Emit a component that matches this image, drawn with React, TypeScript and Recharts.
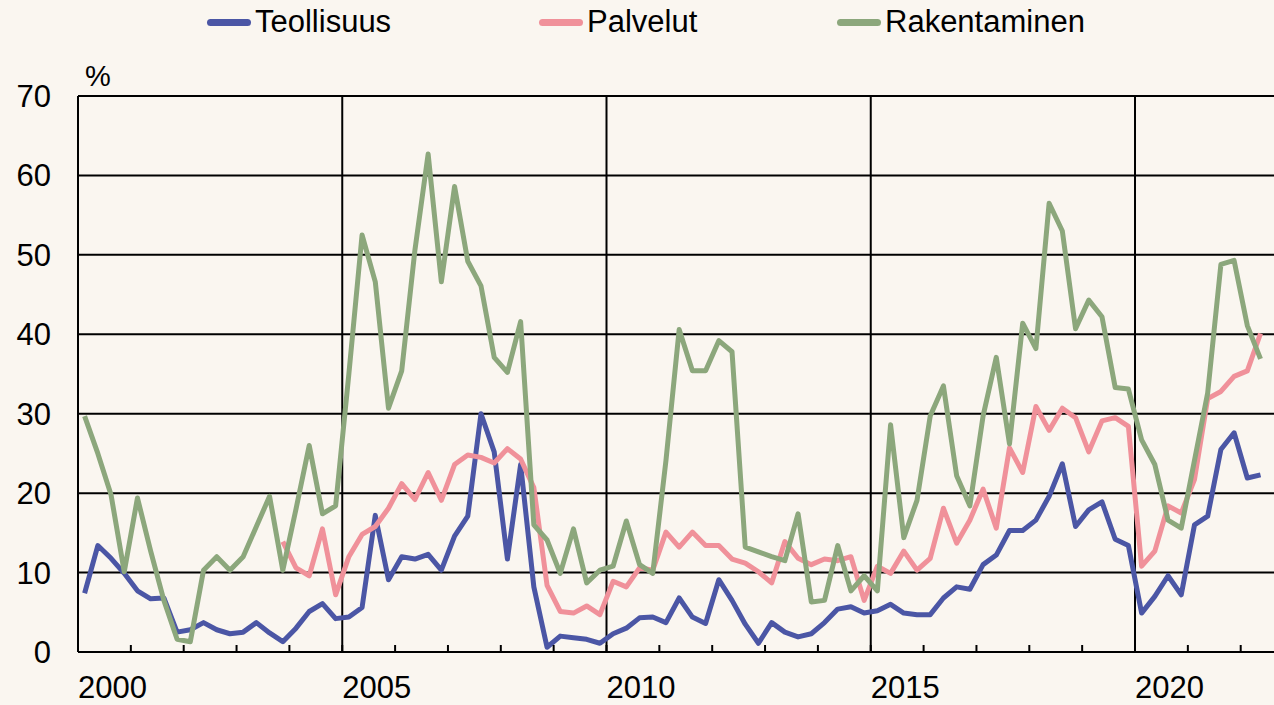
import React from "react";
import {
  LineChart,
  Line,
  XAxis,
  YAxis,
  CartesianGrid,
  ReferenceLine,
  Legend,
} from "recharts";

// Neljännesvuodet 2000Q1 - 2022Q2
const firstYear = 2000;
const quarterCount = 90;
const quarterLabels = Array.from(
  { length: quarterCount },
  (_, i) => `${firstYear + Math.floor(i / 4)}Q${(i % 4) + 1}`
);

const teollisuus = [
  7.4, 13.4, 11.8, 9.9, 7.7, 6.7, 6.8, 2.5, 2.8, 3.7, 2.8, 2.3, 2.5, 3.7, 2.4, 1.3,
  3.0, 5.1, 6.1, 4.2, 4.4, 5.6, 17.2, 9.1, 12.0, 11.7, 12.3, 10.3, 14.6, 17.1, 30.0, 25.2,
  11.7, 23.6, 8.2, 0.6, 2.0, 1.8, 1.6, 1.1, 2.3, 3.0, 4.3, 4.4, 3.7, 6.8, 4.4, 3.6,
  9.1, 6.5, 3.5, 1.1, 3.7, 2.5, 1.9, 2.3, 3.7, 5.4, 5.7, 4.9, 5.2, 6.0, 4.9, 4.7,
  4.7, 6.8, 8.2, 7.9, 11.0, 12.2, 15.3, 15.3, 16.6, 19.6, 23.7, 15.8, 17.9, 18.9, 14.2, 13.4,
  4.9, 7.0, 9.6, 7.2, 16.0, 17.1, 25.5, 27.6, 21.9, 22.3,
];

const palvelut = [
  null, null, null, null, null, null, null, null, null, null, null, null, null, null, null, 13.9,
  10.6, 9.6, 15.5, 7.2, 12.0, 14.8, 15.8, 18.1, 21.2, 19.2, 22.6, 19.1, 23.6, 24.8, 24.5, 23.8,
  25.6, 24.3, 20.7, 8.4, 5.1, 4.9, 5.8, 4.7, 8.9, 8.2, 10.6, 10.3, 15.1, 13.2, 15.1, 13.4,
  13.4, 11.7, 11.2, 10.1, 8.7, 13.9, 11.8, 11.0, 11.7, 11.5, 12.0, 6.5, 10.8, 9.9, 12.7, 10.3,
  11.8, 18.1, 13.7, 16.6, 20.5, 15.6, 25.7, 22.6, 30.9, 27.9, 30.7, 29.5, 25.2, 29.1, 29.5, 28.4,
  10.8, 12.7, 18.4, 17.5, 21.7, 31.9, 32.8, 34.7, 35.4, 40.1,
];

const rakentaminen = [
  29.7, 25.0, 19.8, 10.1, 19.4, 12.7, 6.5, 1.6, 1.3, 10.3, 12.0, 10.3, 12.0, 15.8, 19.6, 10.3,
  18.0, 26.0, 17.4, 18.4, 35.0, 52.5, 46.6, 30.7, 35.4, 50.6, 62.7, 46.6, 58.6, 49.2, 46.1, 37.1,
  35.2, 41.6, 16.0, 14.1, 9.9, 15.5, 8.7, 10.3, 10.8, 16.5, 11.0, 9.9, 24.1, 40.6, 35.4, 35.4,
  39.2, 37.8, 13.2, 12.6, 12.0, 11.5, 17.4, 6.3, 6.5, 13.4, 7.7, 9.6, 7.7, 28.6, 14.4, 19.1,
  29.7, 33.5, 22.2, 18.4, 29.7, 37.1, 26.2, 41.4, 38.2, 56.5, 53.0, 40.7, 44.3, 42.2, 33.3, 33.1,
  26.7, 23.6, 16.6, 15.6, 24.1, 32.6, 48.8, 49.3, 41.1, 36.9,
];

const seriesNames = ["Teollisuus", "Palvelut", "Rakentaminen"];
const yearTicks = Array.from({ length: 23 }, (_, i) => firstYear + i);
const labeledYears = [2000, 2005, 2010, 2015, 2020];
const gridYears = [2005, 2010, 2015, 2020];
const yTicks = [0, 10, 20, 30, 40, 50, 60, 70];

// neljännes keskelle vuoden väliä
const chartData = quarterLabels.map((q, i) => ({
  quarter: q,
  x: firstYear + Math.floor(i / 4) + ((i % 4) + 0.5) / 4,
  teollisuus: teollisuus[i],
  palvelut: palvelut[i],
  rakentaminen: rakentaminen[i],
}));

const FONT = "'Liberation Sans', Arial, sans-serif";
const BG = "#faf6f0";

const legendLeft = [207, 539, 837];

function LegendContent({ payload }: any) {
  const items = [...(payload || [])].sort(
    (a: any, b: any) => seriesNames.indexOf(a.value) - seriesNames.indexOf(b.value)
  );
  return (
    <div style={{ position: "relative", width: 1274, height: 45 }}>
      {items.map((item: any, i: number) => (
        <div
          key={item.value}
          style={{
            position: "absolute",
            left: legendLeft[i],
            top: 3,
            display: "flex",
            alignItems: "center",
            height: 38,
          }}
        >
          <span
            style={{
              display: "inline-block",
              width: 44,
              height: 7,
              borderRadius: 3.5,
              background: item.color,
              marginRight: 4,
            }}
          />
          <span
            style={{ fontFamily: FONT, fontSize: 31, color: "#000", lineHeight: "38px" }}
          >
            {item.value}
          </span>
        </div>
      ))}
    </div>
  );
}

function YearTick({ x, y, payload }: any) {
  const year = payload.value;
  return (
    <g>
      <line x1={x} x2={x} y1={y} y2={y - 7} stroke="#000" strokeWidth={2} />
      {labeledYears.includes(year) && (
        <text
          x={x}
          y={y + 46}
          textAnchor="start"
          fontFamily={FONT}
          fontSize={31}
          fill="#000"
        >
          {year}
        </text>
      )}
    </g>
  );
}

export default function App() {
  return (
    <div
      style={{
        position: "absolute",
        left: 0,
        top: 0,
        width: 1274,
        height: 705,
        background: BG,
        overflow: "hidden",
      }}
    >
      <div
        style={{
          position: "absolute",
          left: 85,
          top: 60,
          fontFamily: FONT,
          fontSize: 29,
          lineHeight: "32px",
        }}
      >
        %
      </div>
      <LineChart
        width={1274}
        height={705}
        data={chartData}
        margin={{ top: 96, right: 0, bottom: 0, left: 0 }}
      >
        <CartesianGrid vertical={false} stroke="#000" strokeWidth={2} />
        {gridYears.map((yr) => (
          <ReferenceLine key={yr} x={yr} stroke="#000" strokeWidth={2} />
        ))}
        <XAxis
          type="number"
          dataKey="x"
          domain={[2000, 2022.63]}
          ticks={yearTicks}
          interval={0}
          height={53}
          tickSize={0}
          tickMargin={0}
          tickLine={false}
          axisLine={{ stroke: "#000", strokeWidth: 2 }}
          tick={<YearTick />}
        />
        <YAxis
          width={78}
          domain={[0, 70]}
          ticks={yTicks}
          interval={0}
          tickLine={false}
          tickSize={0}
          tickMargin={27}
          axisLine={{ stroke: "#000", strokeWidth: 2 }}
          tick={{ fill: "#000", fontSize: 31, fontFamily: FONT }}
        />
        <Legend
          verticalAlign="middle"
          wrapperStyle={{ top: 0, left: 0, width: 1274, height: 45 }}
          content={<LegendContent />}
        />
        <Line
          name="Teollisuus"
          dataKey="teollisuus"
          stroke="#4b56a5"
          strokeWidth={5}
          strokeLinejoin="round"
          dot={false}
          isAnimationActive={false}
        />
        <Line
          name="Palvelut"
          dataKey="palvelut"
          stroke="#f0919a"
          strokeWidth={5}
          strokeLinejoin="round"
          dot={false}
          isAnimationActive={false}
        />
        <Line
          name="Rakentaminen"
          dataKey="rakentaminen"
          stroke="#8ca77c"
          strokeWidth={5}
          strokeLinejoin="round"
          dot={false}
          isAnimationActive={false}
        />
      </LineChart>
    </div>
  );
}
